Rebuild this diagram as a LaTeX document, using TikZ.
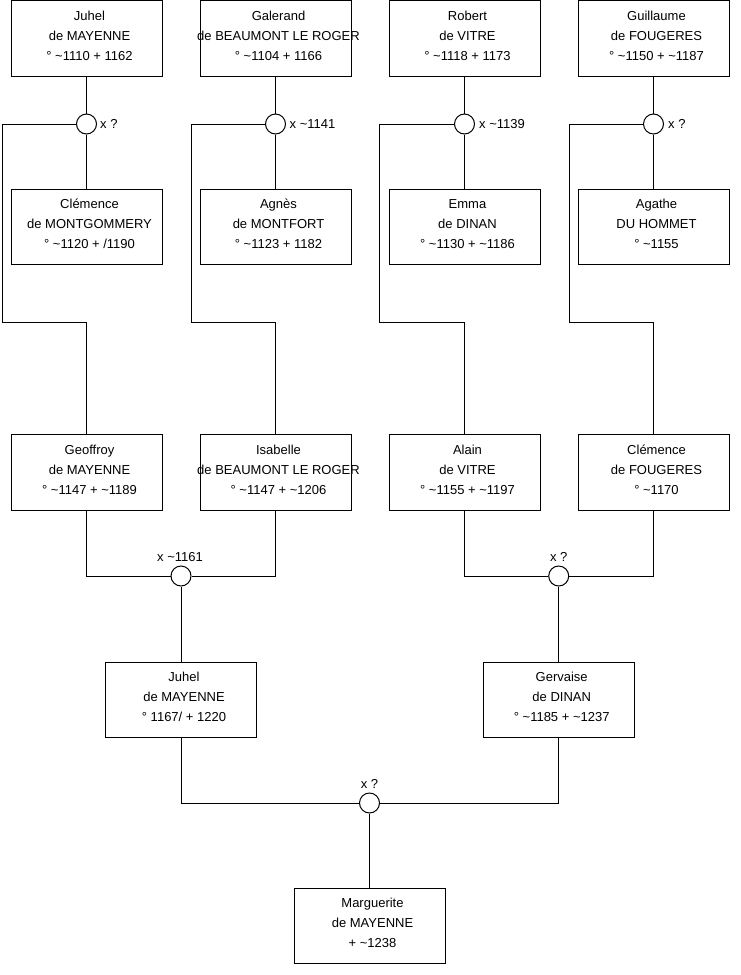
\documentclass[tikz,border=0pt]{standalone}
\usepackage{fontspec}
\setmainfont{Liberation Sans}
\begin{document}
\begin{tikzpicture}[x=1pt,y=-1pt,
  ptext/.style={align=center,font=\fontsize{13}{20}\selectfont,inner sep=0pt,xshift=3pt,yshift=3pt},
  person/.style={draw=black,line width=1pt,fill=white,minimum width=151pt,minimum height=75.5pt,inner sep=0pt,
    label={[ptext]center:{#1}}},
  wed/.style={draw=black,line width=1pt,fill=white,circle,minimum size=20pt,inner sep=0pt},
  wlab/.style={font=\fontsize{13}{15}\selectfont,inner sep=0pt},
  link/.style={draw=black,line width=1pt}]
\useasboundingbox (0,0) rectangle (740,975);
% top row
\node[person={Juhel\\de MAYENNE\\° \textasciitilde1110 + 1162}] (p1) at (86.5,38.5) {};
\node[person={Galerand\\de BEAUMONT LE ROGER\\° \textasciitilde1104 + 1166}] (p2) at (275.5,38.5) {};
\node[person={Robert\\de VITRE\\° \textasciitilde1118 + 1173}] (p3) at (464.5,38.5) {};
\node[person={Guillaume\\de FOUGERES\\° \textasciitilde1150 + \textasciitilde1187}] (p4) at (653.5,38.5) {};
% second row
\node[person={Clémence\\de MONTGOMMERY\\° \textasciitilde1120 + /1190}] (q1) at (86.5,227) {};
\node[person={Agnès\\de MONTFORT\\° \textasciitilde1123 + 1182}] (q2) at (275.5,227) {};
\node[person={Emma\\de DINAN\\° \textasciitilde1130 + \textasciitilde1186}] (q3) at (464.5,227) {};
\node[person={Agathe\\DU HOMMET\\° \textasciitilde1155}] (q4) at (653.5,227) {};
% third row
\node[person={Geoffroy\\de MAYENNE\\° \textasciitilde1147 + \textasciitilde1189}] (r1) at (86.5,472.5) {};
\node[person={Isabelle\\de BEAUMONT LE ROGER\\° \textasciitilde1147 + \textasciitilde1206}] (r2) at (275.5,472.5) {};
\node[person={Alain\\de VITRE\\° \textasciitilde1155 + \textasciitilde1197}] (r3) at (464.5,472.5) {};
\node[person={Clémence\\de FOUGERES\\° \textasciitilde1170}] (r4) at (653.5,472.5) {};
% fourth row
\node[person={Juhel\\de MAYENNE\\° 1167/ + 1220}] (s1) at (181,700) {};
\node[person={Gervaise\\de DINAN\\° \textasciitilde1185 + \textasciitilde1237}] (s2) at (558.7,700) {};
% bottom
\node[person={Marguerite\\de MAYENNE\\+ \textasciitilde1238}] (t1) at (369.5,926) {};
% marriage circles
\node[wed] (c1) at (86.5,124) {};
\node[wed] (c2) at (275.5,124) {};
\node[wed] (c3) at (464.5,124) {};
\node[wed] (c4) at (653.5,124) {};
\node[wed] (m1) at (181,576) {};
\node[wed] (m2) at (558.7,576) {};
\node[wed] (m3) at (369.5,803) {};
% marriage labels
\node[wlab,anchor=west] (l1) at (100,124) {x ?};
\node[wlab,anchor=west] (l2) at (289.5,124) {x \textasciitilde1141};
\node[wlab,anchor=west] (l3) at (479,124) {x \textasciitilde1139};
\node[wlab,anchor=west] (l4) at (668,124) {x ?};
\node[wlab] (l5) at (180,557) {x \textasciitilde1161};
\node[wlab] (l6) at (558.7,557) {x ?};
\node[wlab] (l7) at (369.5,784) {x ?};
% bend points
\coordinate (k1) at (2.7,322);
\coordinate (k2) at (191,322);
\coordinate (k3) at (379.5,322);
\coordinate (k4) at (569,322);
% connectors
\path[link] (p1) -- (c1) -- (q1);
\path[link] (p2) -- (c2) -- (q2);
\path[link] (p3) -- (c3) -- (q3);
\path[link] (p4) -- (c4) -- (q4);
\path[link] (c1.west) -| (k1) -| (r1.north);
\path[link] (c2.west) -| (k2) -| (r2.north);
\path[link] (c3.west) -| (k3) -| (r3.north);
\path[link] (c4.west) -| (k4) -| (r4.north);
\path[link] (r1.south) |- (m1.west);
\path[link] (r2.south) |- (m1.east);
\path[link] (r3.south) |- (m2.west);
\path[link] (r4.south) |- (m2.east);
\path[link] (m1.south) -- (m1.south |- s1.north);
\path[link] (m2.south) -- (m2.south |- s2.north);
\path[link] (s1.south) |- (m3.west);
\path[link] (s2.south) |- (m3.east);
\path[link] (m3.south) -- (m3.south |- t1.north);
\end{tikzpicture}
\end{document}
